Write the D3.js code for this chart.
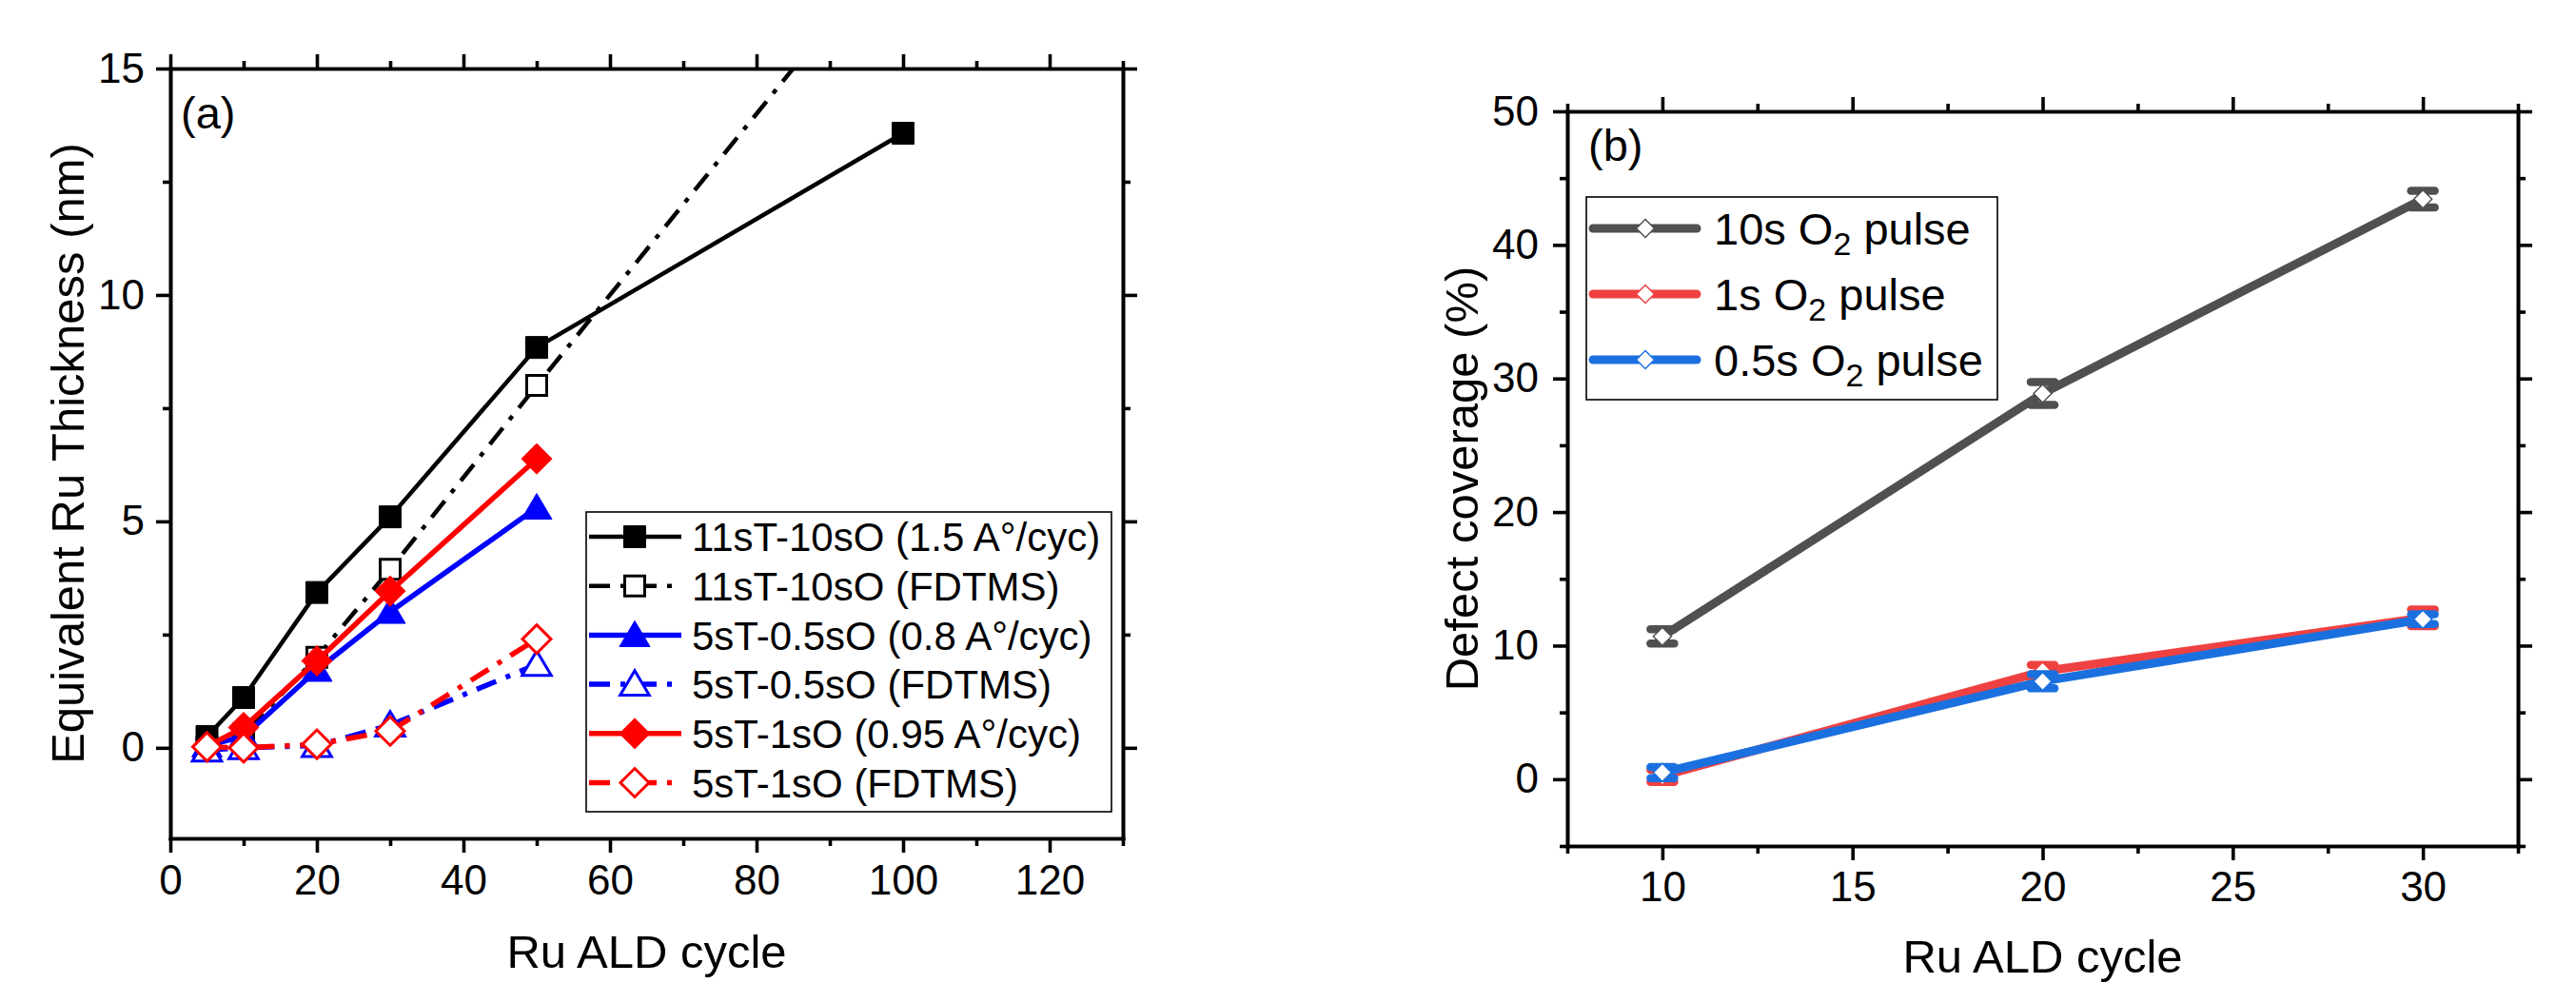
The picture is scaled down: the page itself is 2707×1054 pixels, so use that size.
<!DOCTYPE html>
<html>
<head>
<meta charset="utf-8">
<script src="https://cdn.jsdelivr.net/npm/d3@7/dist/d3.min.js"></script>
<style>
  html, body { margin: 0; padding: 0; background: #fff; }
  svg { display: block; }
</style>
</head>
<body>
<svg id="chart" width="2707" height="1054"></svg>
<script>
// ---------------- Panel (a) data ----------------
const seriesA_names = [
  "11sT-10sO (1.5 A°/cyc)",
  "11sT-10sO (FDTMS)",
  "5sT-0.5sO (0.8 A°/cyc)",
  "5sT-0.5sO (FDTMS)",
  "5sT-1sO (0.95 A°/cyc)",
  "5sT-1sO (FDTMS)"
];
const cyc_11sT = [5, 10, 20, 30, 50, 100];
const thk_11sT = [0.25, 1.11, 3.43, 5.10, 8.84, 13.57];
const cyc_11sT_F = [5, 10, 20, 30, 50, 100];
const thk_11sT_F = [0.0, 0.30, 2.00, 3.94, 8.00, 18.0];
const cyc_05 = [5, 10, 20, 30, 50];
const thk_05 = [0.05, 0.25, 1.72, 3.00, 5.30];
const cyc_05_F = [5, 10, 20, 30, 50];
const thk_05_F = [-0.05, 0.0, 0.05, 0.50, 1.84];
const cyc_1 = [5, 10, 20, 30, 50];
const thk_1 = [0.03, 0.45, 1.92, 3.46, 6.38];
const cyc_1_F = [5, 10, 20, 30, 50];
const thk_1_F = [0.02, 0.0, 0.08, 0.37, 2.40];

const xTicksA_major = [0, 20, 40, 60, 80, 100, 120];
const xTicksA_minor = [10, 30, 50, 70, 90, 110, 130];
const yTicksA_major = [0, 5, 10, 15];
const yTicksA_minor = [2.5, 7.5, 12.5];

// ---------------- Panel (b) data ----------------
const seriesB_names = ["10s", "1s", "0.5s"];
const cyclesB = [10, 20, 30];
const cov_10s = [10.69, 28.88, 43.43];
const err_10s = [0.53, 0.86, 0.62];
const cov_1s = [0.25, 8.07, 12.08];
const err_1s = [0.45, 0.49, 0.62];
const cov_05s = [0.50, 7.33, 11.98];
const err_05s = [0.42, 0.53, 0.36];

const xTicksB_major = [10, 15, 20, 25, 30];
const xTicksB_minor = [7.5, 12.5, 17.5, 22.5, 27.5, 32.5];
const yTicksB_major = [0, 10, 20, 30, 40, 50];
const yTicksB_minor = [-5, 5, 15, 25, 35, 45];

// ---------------- Setup ----------------
const FONT = "'Liberation Sans', Arial, Helvetica, sans-serif";
const svg = d3.select("#chart");

const xA = d3.scaleLinear().domain([0, 130]).range([179, 1180]);
const yA = d3.scaleLinear().domain([-2, 15]).range([881, 72]);
const xB = d3.scaleLinear().domain([7.5, 32.5]).range([1647, 2646]);
const yB = d3.scaleLinear().domain([-5, 50]).range([889, 117]);

function styleAxis(g, fontSize) {
  g.attr("font-family", FONT).attr("font-size", fontSize);
  g.selectAll(".domain").attr("stroke-width", 3.6).attr("stroke-linecap", "square").attr("stroke", "#000");
  g.selectAll(".tick line").attr("stroke-width", 3.6).attr("stroke", "#000");
  g.selectAll(".tick text").attr("fill", "#000");
}

function drawFrame(x, y, xMaj, xMin, yMaj, yMin, fs, padX, padY) {
  const [x0, x1] = x.range();
  const [yb, yt] = y.range();
  const root = svg.append("g");
  const MAJ = 15, MIN = 8;
  root.append("g").attr("transform", `translate(0,${yb})`)
    .call(d3.axisBottom(x).tickValues(xMin).tickSize(MIN).tickSizeOuter(0).tickFormat(""))
    .call(g => styleAxis(g, fs));
  root.append("g").attr("transform", `translate(0,${yb})`)
    .call(d3.axisBottom(x).tickValues(xMaj).tickSize(MAJ).tickSizeOuter(0).tickPadding(padX).tickFormat(d3.format("d")))
    .call(g => styleAxis(g, fs));
  root.append("g").attr("transform", `translate(0,${yt})`)
    .call(d3.axisTop(x).tickValues(xMin).tickSize(MIN).tickSizeOuter(0).tickFormat(""))
    .call(g => styleAxis(g, fs));
  root.append("g").attr("transform", `translate(0,${yt})`)
    .call(d3.axisTop(x).tickValues(xMaj).tickSize(MAJ).tickSizeOuter(0).tickFormat(""))
    .call(g => styleAxis(g, fs));
  root.append("g").attr("transform", `translate(${x0},0)`)
    .call(d3.axisLeft(y).tickValues(yMin).tickSize(MIN).tickSizeOuter(0).tickFormat(""))
    .call(g => styleAxis(g, fs));
  root.append("g").attr("transform", `translate(${x0},0)`)
    .call(d3.axisLeft(y).tickValues(yMaj).tickSize(MAJ).tickSizeOuter(0).tickPadding(padY).tickFormat(d3.format("d")))
    .call(g => styleAxis(g, fs));
  root.append("g").attr("transform", `translate(${x1},0)`)
    .call(d3.axisRight(y).tickValues(yMin).tickSize(MIN).tickSizeOuter(0).tickFormat(""))
    .call(g => styleAxis(g, fs));
  root.append("g").attr("transform", `translate(${x1},0)`)
    .call(d3.axisRight(y).tickValues(yMaj).tickSize(MAJ).tickSizeOuter(0).tickFormat(""))
    .call(g => styleAxis(g, fs));
}

function markerPath(type, s) {
  if (type === "square") return `M${-s},${-s}H${s}V${s}H${-s}Z`;
  if (type === "triangle") return `M0,${-15 * s / 11}L${16 * s / 11},${12 * s / 11}L${-16 * s / 11},${12 * s / 11}Z`;
  if (type === "diamond") return `M0,${-s}L${s},0L0,${s}L${-s},0Z`;
  return "";
}

// ---------------- Panel (a) ----------------
drawFrame(xA, yA, xTicksA_major, xTicksA_minor, yTicksA_major, yTicksA_minor, 44, 13, 12);

svg.append("clipPath").attr("id", "clipA").append("rect")
  .attr("x", xA.range()[0]).attr("y", yA.range()[1])
  .attr("width", xA.range()[1] - xA.range()[0]).attr("height", yA.range()[0] - yA.range()[1]);

const DASHDOT = "22,11,5,11";
const seriesA = [
  { name: seriesA_names[0], xs: cyc_11sT, ys: thk_11sT, color: "#000000", dash: null, marker: "square", filled: true, lw: 4.5, ms: 11.5 },
  { name: seriesA_names[1], xs: cyc_11sT_F, ys: thk_11sT_F, color: "#000000", dash: DASHDOT, marker: "square", filled: false, lw: 4.5, ms: 10.5 },
  { name: seriesA_names[2], xs: cyc_05, ys: thk_05, color: "#0000FF", dash: null, marker: "triangle", filled: true, lw: 5.5, ms: 11 },
  { name: seriesA_names[3], xs: cyc_05_F, ys: thk_05_F, color: "#0000FF", dash: DASHDOT, marker: "triangle", filled: false, lw: 5.5, ms: 10.5 },
  { name: seriesA_names[4], xs: cyc_1, ys: thk_1, color: "#FF0000", dash: null, marker: "diamond", filled: true, lw: 5.5, ms: 16 },
  { name: seriesA_names[5], xs: cyc_1_F, ys: thk_1_F, color: "#FF0000", dash: DASHDOT, marker: "diamond", filled: false, lw: 5.5, ms: 15 }
];

const lineA = d3.line().x(d => xA(d[0])).y(d => yA(d[1]));
const gA = svg.append("g").attr("clip-path", "url(#clipA)");
seriesA.forEach(s => {
  const pts = s.xs.map((x, i) => [x, s.ys[i]]);
  const g = gA.append("g");
  g.append("path").datum(pts).attr("d", lineA)
    .attr("fill", "none").attr("stroke", s.color).attr("stroke-width", s.lw)
    .attr("stroke-dasharray", s.dash).attr("stroke-linejoin", "round");
  g.selectAll("path.mk").data(pts).join("path").attr("class", "mk")
    .attr("transform", d => `translate(${xA(d[0])},${yA(d[1])})`)
    .attr("d", markerPath(s.marker, s.ms))
    .attr("fill", s.filled ? s.color : "#fff")
    .attr("stroke", s.color).attr("stroke-width", s.filled ? 1 : 3);
});

// legend (a)
const legA = svg.append("g").attr("font-family", FONT).attr("font-size", 42);
legA.append("rect").attr("x", 616).attr("y", 538).attr("width", 552).attr("height", 315)
  .attr("fill", "#fff").attr("stroke", "#000").attr("stroke-width", 1.6);
seriesA.forEach((s, i) => {
  const cy = 564 + i * 51.7;
  legA.append("line").attr("x1", 619).attr("x2", 716).attr("y1", cy).attr("y2", cy)
    .attr("stroke", s.color).attr("stroke-width", s.lw).attr("stroke-dasharray", s.dash);
  legA.append("path").attr("transform", `translate(667,${cy})`).attr("d", markerPath(s.marker, s.ms))
    .attr("fill", s.filled ? s.color : "#fff").attr("stroke", s.color).attr("stroke-width", s.filled ? 1 : 3);
  legA.append("text").attr("x", 727).attr("y", cy).attr("dy", "0.36em").text(s.name);
});

svg.append("text").attr("x", 190).attr("y", 135).attr("font-family", FONT).attr("font-size", 47).text("(a)");
svg.append("text").attr("x", (xA.range()[0] + xA.range()[1]) / 2).attr("y", 1017)
  .attr("text-anchor", "middle").attr("font-family", FONT).attr("font-size", 49).text("Ru ALD cycle");
svg.append("text").attr("transform", `translate(88,${(yA.range()[0] + yA.range()[1]) / 2}) rotate(-90)`)
  .attr("text-anchor", "middle").attr("font-family", FONT).attr("font-size", 49).text("Equivalent Ru Thickness (nm)");

// ---------------- Panel (b) ----------------
drawFrame(xB, yB, xTicksB_major, xTicksB_minor, yTicksB_major, yTicksB_minor, 44, 12, 15);

const seriesB = [
  { name: seriesB_names[0], ys: cov_10s, es: err_10s, color: "#505050" },
  { name: seriesB_names[1], ys: cov_1s, es: err_1s, color: "#EF4142" },
  { name: seriesB_names[2], ys: cov_05s, es: err_05s, color: "#1B70DF" }
];
const lineB = d3.line().x(d => xB(d[0])).y(d => yB(d[1]));
const gB = svg.append("g");
seriesB.forEach(s => {
  const pts = cyclesB.map((x, i) => [x, s.ys[i], s.es[i]]);
  const g = gB.append("g");
  g.append("path").datum(pts).attr("d", lineB)
    .attr("fill", "none").attr("stroke", s.color).attr("stroke-width", 9)
    .attr("stroke-linejoin", "round").attr("stroke-linecap", "round");
  const eb = g.selectAll("g.eb").data(pts).join("g").attr("class", "eb");
  eb.append("line")
    .attr("x1", d => xB(d[0])).attr("x2", d => xB(d[0]))
    .attr("y1", d => yB(d[1] - d[2])).attr("y2", d => yB(d[1] + d[2]))
    .attr("stroke", s.color).attr("stroke-width", 4).attr("stroke-linecap", "round");
  [-1, 1].forEach(sg => {
    eb.append("line")
      .attr("x1", d => xB(d[0]) - 12.5).attr("x2", d => xB(d[0]) + 12.5)
      .attr("y1", d => yB(d[1] + sg * d[2])).attr("y2", d => yB(d[1] + sg * d[2]))
      .attr("stroke", s.color).attr("stroke-width", 8.5).attr("stroke-linecap", "round");
  });
  g.selectAll("path.mk").data(pts).join("path").attr("class", "mk")
    .attr("transform", d => `translate(${xB(d[0])},${yB(d[1])})`)
    .attr("d", markerPath("diamond", 9.5))
    .attr("fill", "#fff").attr("stroke", s.color).attr("stroke-width", 1.5);
});

const legB = svg.append("g").attr("font-family", FONT).attr("font-size", 47);
legB.append("rect").attr("x", 1667).attr("y", 207).attr("width", 432).attr("height", 213)
  .attr("fill", "#fff").attr("stroke", "#000").attr("stroke-width", 1.6);
seriesB.forEach((s, i) => {
  const cy = 240 + i * 69;
  legB.append("line").attr("x1", 1674).attr("x2", 1783).attr("y1", cy).attr("y2", cy)
    .attr("stroke", s.color).attr("stroke-width", 9).attr("stroke-linecap", "round");
  legB.append("path").attr("transform", `translate(1729,${cy})`).attr("d", markerPath("diamond", 9.5))
    .attr("fill", "#fff").attr("stroke", s.color).attr("stroke-width", 1.5);
  const t = legB.append("text").attr("x", 1801).attr("y", cy + 17);
  t.append("tspan").text(s.name + " O");
  t.append("tspan").attr("font-size", 34).attr("dy", 11).text("2");
  t.append("tspan").attr("dy", -11).text(" pulse");
});

svg.append("text").attr("x", 1669).attr("y", 169).attr("font-family", FONT).attr("font-size", 47).text("(b)");
svg.append("text").attr("x", (xB.range()[0] + xB.range()[1]) / 2).attr("y", 1022)
  .attr("text-anchor", "middle").attr("font-family", FONT).attr("font-size", 49).text("Ru ALD cycle");
svg.append("text").attr("transform", `translate(1553,${(yB.range()[0] + yB.range()[1]) / 2}) rotate(-90)`)
  .attr("text-anchor", "middle").attr("font-family", FONT).attr("font-size", 49).text("Defect coverage (%)");
</script>
</body>
</html>
